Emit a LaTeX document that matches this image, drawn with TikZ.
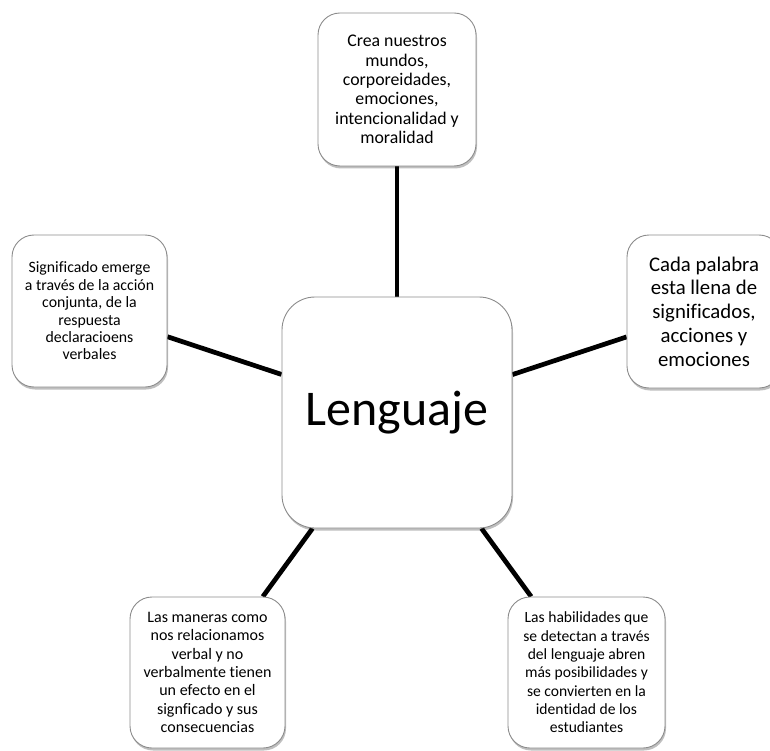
\documentclass[tikz,border=0pt]{standalone}
\usepackage{fontspec}
\setmainfont{Carlito}[Ligatures=NoCommon]
\usetikzlibrary{shadows,backgrounds}
\definecolor{borde}{RGB}{140,140,140}
\tikzset{
  caja/.style={draw=borde, line width=0.9pt, fill=white, rounded corners=22pt,
    align=center, inner sep=0pt,
    drop shadow={shadow xshift=1pt, shadow yshift=-2.5pt, opacity=0.25, fill=black}},
  centro/.style={caja, rounded corners=33pt, minimum width=230pt, minimum height=231pt,
    font=\fontsize{50pt}{52pt}\selectfont},
  conector/.style={line width=4.7pt, black}
}

\begin{document}
\begin{tikzpicture}[x=1pt, y=-1pt]
\useasboundingbox (0,0) rectangle (770,751);
\clip (0,0) rectangle (770,751);

\node[centro] (lenguaje) at (397,412.5) {Lenguaje};

\node[caja, minimum width=158pt, minimum height=153pt,
  font=\fontsize{17.8pt}{19.4pt}\selectfont] (crea) at (397,89.5)
  {Crea nuestros\\mundos,\\corporeidades,\\emociones,\\intencionalidad y\\moralidad};
\node[caja, minimum width=155pt, minimum height=152pt,
  font=\fontsize{15.8pt}{17.4pt}\selectfont] (significado) at (89.5,311)
  {Significado emerge\\a través de la acción\\conjunta, de la\\respuesta\\declaracioens\\verbales};
\node[caja, minimum width=154pt, minimum height=153pt,
  font=\fontsize{20.8pt}{23.7pt}\selectfont] (palabra) at (704,311.5)
  {Cada palabra\\esta llena de\\significados,\\acciones y\\emociones};
\node[caja, minimum width=155pt, minimum height=151pt,
  font=\fontsize{16pt}{18.3pt}\selectfont] (maneras) at (207.5,672.5)
  {Las maneras como\\nos relacionamos\\verbal y no\\verbalmente tienen\\un efecto en el\\signficado y sus\\consecuencias};
\node[caja, minimum width=157pt, minimum height=151pt,
  font=\fontsize{15.6pt}{18.3pt}\selectfont] (habilidades) at (586.5,672.5)
  {Las habilidades que\\se detectan a través\\del lenguaje abren\\más posibilidades y\\se convierten en la\\identidad de los\\estudiantes};

\begin{pgfonlayer}{background}
\draw[conector] (lenguaje) -- (crea);
\draw[conector] (lenguaje) -- (significado);
\draw[conector] (lenguaje) -- (palabra);
\draw[conector] (lenguaje) -- (maneras);
\draw[conector] (lenguaje) -- (habilidades);
\end{pgfonlayer}
\end{tikzpicture}
\end{document}
